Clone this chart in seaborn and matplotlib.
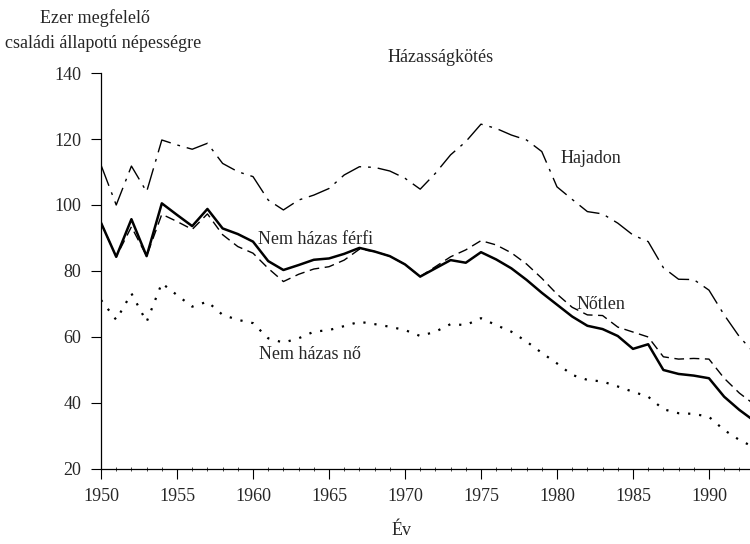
import pandas as pd
import seaborn as sns
import matplotlib.pyplot as plt
from matplotlib.ticker import MultipleLocator

# Adatok (leolvasva az ábráról)
evek = list(range(1950, 1994))
hajadon = [112.1, 100.0, 111.8, 104.0, 119.7, 118.2, 116.9, 118.7, 112.6, 110.1,
           108.6, 101.5, 98.5, 101.5, 103.0, 105.0, 109.1, 111.6, 111.4, 110.3,
           108.1, 104.8, 109.6, 115.2, 119.2, 124.5, 123.2, 121.2, 119.7, 116.2,
           105.5, 101.7, 98.0, 97.3, 94.5, 90.9, 88.9, 81.0, 77.5, 77.4,
           74.2, 66.7, 60.1, 55.0]
ferfi = [94.6, 84.3, 95.7, 84.5, 100.5, 97.0, 93.6, 98.8, 92.9, 91.2,
         88.9, 83.0, 80.3, 81.8, 83.4, 83.8, 85.2, 87.0, 85.9, 84.5,
         82.0, 78.3, 80.8, 83.3, 82.5, 85.7, 83.5, 80.8, 77.3, 73.4,
         69.8, 66.2, 63.4, 62.4, 60.3, 56.4, 57.8, 50.0, 48.8, 48.3,
         47.5, 41.9, 37.9, 34.5]
notlen = [94.6, 84.3, 93.4, 84.5, 97.2, 95.0, 92.6, 97.3, 91.0, 87.4,
          85.4, 80.8, 76.8, 79.0, 80.6, 81.3, 83.3, 86.6, 85.9, 84.5,
          82.0, 78.3, 81.3, 84.3, 86.4, 89.2, 87.9, 85.5, 82.1, 77.8,
          73.0, 69.0, 66.7, 66.5, 63.0, 61.5, 60.0, 54.0, 53.3, 53.5,
          53.3, 47.5, 43.0, 39.5]
no = [71.2, 65.2, 73.2, 64.6, 76.3, 72.7, 69.2, 70.7, 66.7, 65.2,
      64.2, 59.6, 58.3, 59.6, 61.6, 62.1, 63.3, 64.6, 63.9, 63.1,
      62.1, 60.3, 61.6, 63.9, 63.6, 65.7, 63.6, 61.6, 58.6, 55.2,
      52.0, 48.5, 47.0, 46.5, 45.0, 43.4, 41.9, 38.1, 36.9, 36.7,
      35.8, 31.8, 28.8, 26.5]

df = pd.DataFrame({"Ev": evek, "Hajadon": hajadon, "Ferfi": ferfi,
                   "Notlen": notlen, "No": no})

sns.set_style("ticks")
plt.rcParams["font.family"] = ["Liberation Serif", "DejaVu Serif"]

fig = plt.figure(figsize=(7.5, 5.44), dpi=100)
ax = fig.add_axes([0.1347, 0.1379, 0.8653, 0.7279])

sns.lineplot(data=df, x="Ev", y="Hajadon", ax=ax, color="black", linewidth=1.0,
             linestyle=(0, (16, 5, 2, 5)))
sns.lineplot(data=df, x="Ev", y="Notlen", ax=ax, color="black", linewidth=1.0,
             linestyle=(0, (7, 4)))
sns.lineplot(data=df, x="Ev", y="No", ax=ax, color="black", linewidth=1.6,
             linestyle=(0, (1, 4)))
sns.lineplot(data=df, x="Ev", y="Ferfi", ax=ax, color="black", linewidth=1.8)

ax.set_xlim(1950, 1992.7)
ax.set_ylim(20, 140)
ax.xaxis.set_major_locator(MultipleLocator(5))
ax.xaxis.set_minor_locator(MultipleLocator(1))
ax.yaxis.set_major_locator(MultipleLocator(20))
ax.tick_params(axis="both", which="major", labelsize=13, length=7, width=0.8,
               color="black", pad=7)
ax.tick_params(axis="x", which="minor", length=3, width=0.6, direction="inout")
ax.spines["right"].set_visible(False)
ax.spines["top"].set_visible(False)
for s in ["left", "bottom"]:
    ax.spines[s].set_linewidth(0.9)
    ax.spines[s].set_color("black")

ax.set_xlabel("")
ax.set_ylabel("")
fig.text(0.535, 0.025, "Év", ha="center", va="center", fontsize=13)
fig.text(0.127, 0.967, "Ezer megfelelő", ha="center", va="center", fontsize=13)
fig.text(0.137, 0.92, "családi állapotú népességre", ha="center", va="center",
         fontsize=13)
fig.text(0.588, 0.895, "Házasságkötés", ha="center", va="center", fontsize=13)

ax.text(1980.2, 114, "Hajadon", fontsize=13, ha="left", va="center")
ax.text(1960.3, 89.5, "Nem házas férfi", fontsize=13, ha="left", va="center")
ax.text(1981.3, 69.8, "Nőtlen", fontsize=13, ha="left", va="center")
ax.text(1960.4, 54.7, "Nem házas nő", fontsize=13, ha="left", va="center")

fig.savefig("out.png", dpi=100, facecolor="white")
